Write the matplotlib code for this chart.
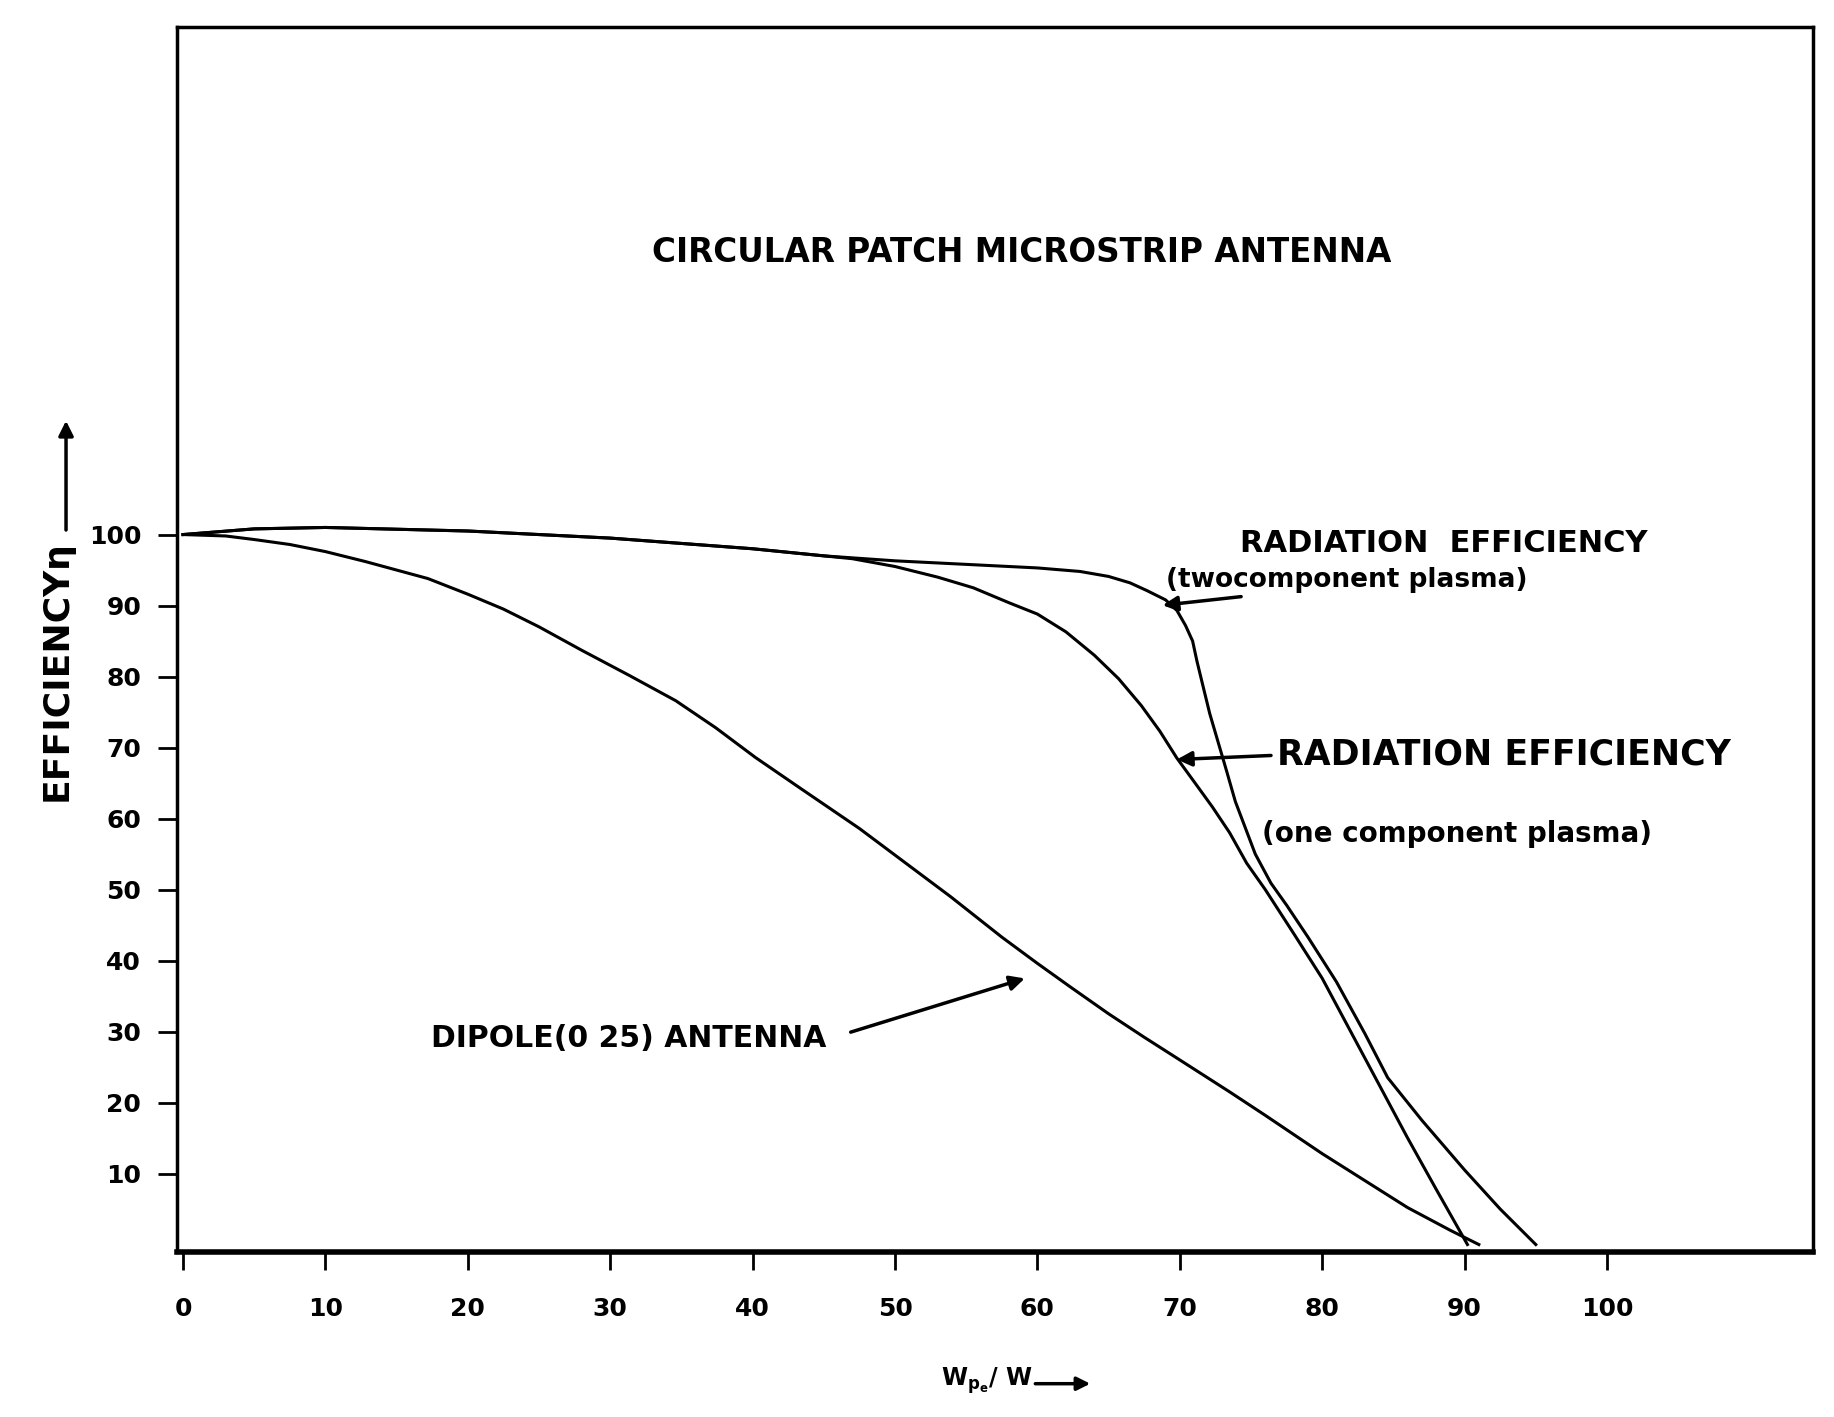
import matplotlib
matplotlib.use("Agg")
import matplotlib.pyplot as plt

plt.rcParams["font.family"] = ["DejaVu Sans"]
plt.rcParams["mathtext.default"] = "bf"

# two component plasma (upper curve)
x_two = [0, 5, 10, 20, 30, 40, 45, 50, 55, 60, 63, 65, 66.5, 67.7, 69, 69.8,
         70.4, 70.9, 71.2, 71.6, 72.1, 72.7, 73.3, 73.9, 74.6, 75.3, 76.4,
         77.5, 79, 81, 83, 84.6, 87, 90, 92.5, 95]
y_two = [100, 100.8, 101, 100.5, 99.5, 98, 97, 96.3, 95.8, 95.3, 94.8, 94.1,
         93.2, 92.1, 90.8, 89.3, 87.2, 85, 82.2, 78.9, 74.8, 70.7, 66.6, 62.4,
         58.7, 55, 50.9, 47.8, 43.3, 37, 29.7, 23.5, 17.5, 10.5, 5, 0]

# one component plasma
x_one = [0, 5, 10, 20, 30, 40, 45, 47, 50, 53, 55.5, 58, 60, 62, 64, 65.7,
         67.3, 68.6, 69.8, 71, 72.3, 73.5, 74.7, 76, 78, 80, 82, 84, 86, 88,
         90.2]
y_one = [100, 100.8, 101, 100.5, 99.5, 98, 97, 96.6, 95.5, 94, 92.5, 90.4, 88.8,
         86.3, 83, 79.7, 75.9, 72.3, 68.5, 65.2, 61.6, 58, 53.7, 50, 43.8, 37.5,
         30, 22.5, 15, 7.8, 0]

# dipole (0.25) antenna
x_dip = [0, 3, 5, 7.5, 10, 12.8, 15, 17.2, 20, 22.5, 25, 28, 31.3, 34.6, 37.4,
         40.2, 43.4, 47.5, 50.7, 53.9, 57.5, 60, 62.3, 65, 67.5, 70, 73.5, 76,
         78, 80, 83, 86, 89, 91]
y_dip = [100, 99.8, 99.3, 98.6, 97.6, 96.2, 95, 93.8, 91.6, 89.5, 87, 83.7, 80.2,
         76.6, 72.8, 68.6, 64.2, 58.6, 53.8, 49, 43.3, 39.6, 36.3, 32.5, 29.2,
         26, 21.5, 18.2, 15.5, 12.8, 9, 5.2, 2, 0]

x_ticks = [0, 10, 20, 30, 40, 50, 60, 70, 80, 90, 100]
y_ticks = [10, 20, 30, 40, 50, 60, 70, 80, 90, 100]

fig = plt.figure(figsize=(18.34, 14.17), dpi=100)
ax = fig.add_axes([0.0967, 0.1167, 0.8921, 0.8643])

for xs, ys in [(x_two, y_two), (x_one, y_one), (x_dip, y_dip)]:
    ax.plot(xs, ys, color="black", lw=2.2, solid_joinstyle="round")

ax.set_xlim(-0.4, 114.5)
ax.set_ylim(-1, 171.5)
ax.set_xticks(x_ticks)
ax.set_yticks(y_ticks)
ax.tick_params(axis="x", direction="out", length=13, width=2, pad=20,
               labelsize=18)
ax.tick_params(axis="y", direction="out", length=14, width=2, pad=12,
               labelsize=18)
for lab in ax.get_xticklabels() + ax.get_yticklabels():
    lab.set_fontweight("bold")
for side in ["left", "right", "top"]:
    ax.spines[side].set_linewidth(2.5)
ax.spines["bottom"].set_linewidth(4)

bold = dict(fontweight="bold", color="black")
ax.text(32.9, 139.7, "CIRCULAR PATCH MICROSTRIP ANTENNA", fontsize=23.5,
        ha="left", va="center", **bold)
ax.text(74.2, 98.7, "RADIATION  EFFICIENCY", fontsize=22, ha="left",
        va="center", **bold)
ax.text(69.0, 93.6, "(twocomponent plasma)", fontsize=19, ha="left",
        va="center", **bold)
ax.text(76.8, 69.0, "RADIATION EFFICIENCY", fontsize=25, ha="left",
        va="center", **bold)
ax.text(75.8, 57.8, "(one component plasma)", fontsize=20, ha="left",
        va="center", **bold)
ax.text(17.4, 29.0, "DIPOLE(0 25) ANTENNA", fontsize=21.5, ha="left",
        va="center", **bold)

arrow = dict(arrowstyle="-|>", color="black", lw=2.5, mutation_scale=22)
ax.annotate("", xy=(68.6, 90.0), xytext=(74.5, 91.3), arrowprops=arrow)
ax.annotate("", xy=(69.6, 68.3), xytext=(76.6, 68.9), arrowprops=arrow)
ax.annotate("", xy=(59.3, 37.6), xytext=(46.7, 29.8), arrowprops=arrow)

# axis labels with their arrows
fig.text(0.538, 0.026, "W$_{p_e}$/ W", fontsize=17, ha="center",
         va="center", **bold)
fig.add_artist(matplotlib.patches.FancyArrowPatch(
    (0.563, 0.0235), (0.596, 0.0235), transform=fig.transFigure,
    arrowstyle="-|>", color="black", lw=2.5, mutation_scale=20))
fig.text(0.031, 0.527, "EFFICIENCY\u03b7", fontsize=26, rotation=90,
         ha="center", va="center", **bold)
fig.add_artist(matplotlib.patches.FancyArrowPatch(
    (0.036, 0.624), (0.036, 0.705), transform=fig.transFigure,
    arrowstyle="-|>", color="black", lw=2.5, mutation_scale=22))

fig.savefig("out.png", dpi=100)
